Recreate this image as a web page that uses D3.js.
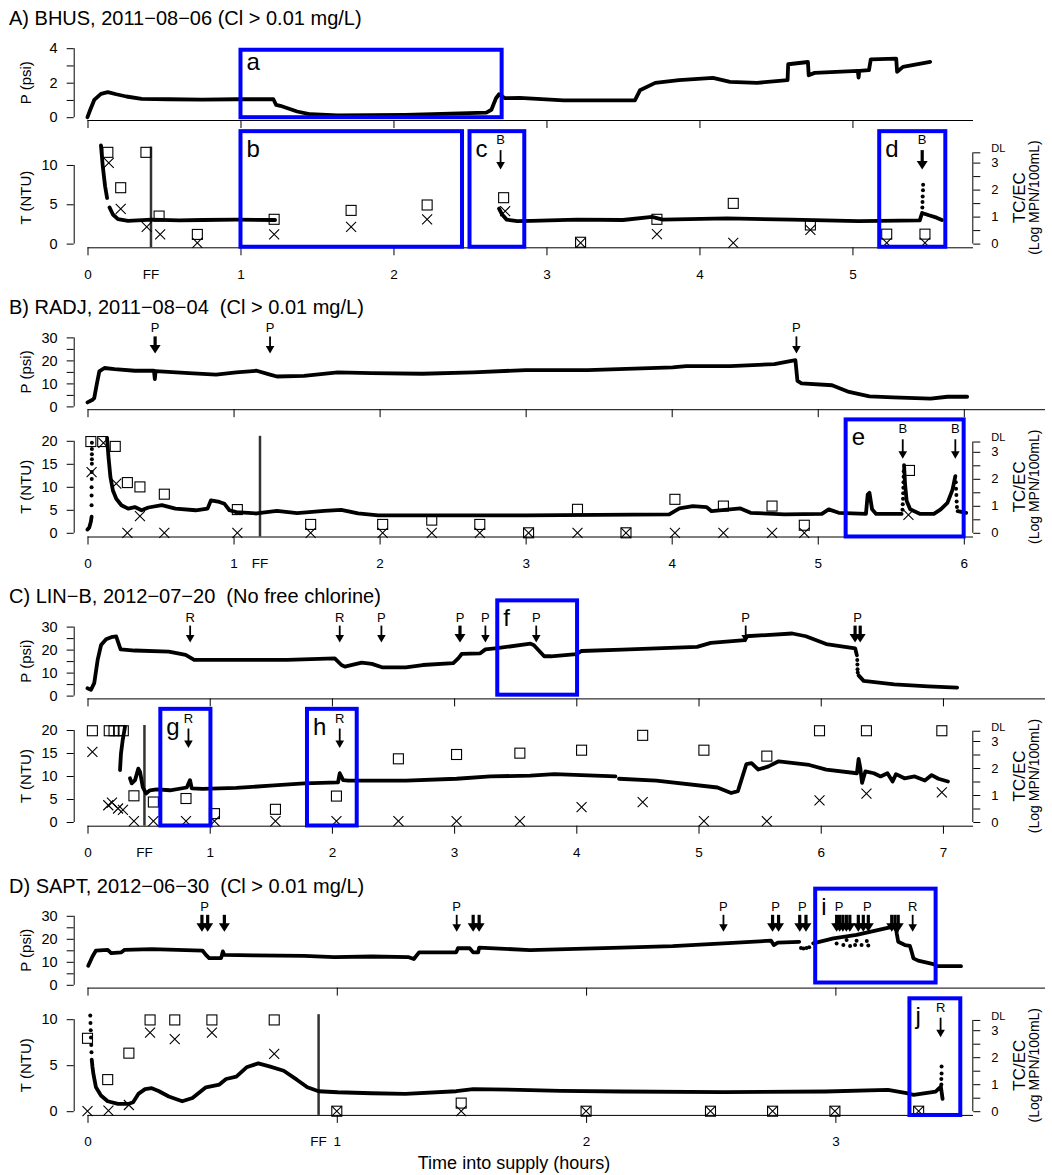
<!DOCTYPE html>
<html>
<head>
<meta charset="utf-8">
<script src="https://cdn.jsdelivr.net/npm/d3@7"></script>
<style>
  body { margin: 0; background: #fff; }
  svg { display: block; font-family: "Liberation Sans", Arial, Helvetica, sans-serif; }
</style>
</head>
<body>
<svg id="chart" width="1052" height="1175"></svg>
<script>
"use strict";

// upper detection limit of the coliform test (log MPN/100mL)
var DL = 3.38;

var titles = [
  "A) BHUS, 2011\u221208\u221206 (Cl > 0.01 mg/L)",
  "B) RADJ, 2011\u221208\u221204  (Cl > 0.01 mg/L)",
  "C) LIN\u2212B, 2012\u221207\u221220  (No free chlorine)",
  "D) SAPT, 2012\u221206\u221230  (Cl > 0.01 mg/L)"
];

// hour ticks and the first-flush time of each supply
var hourTicks = [[0, 1, 2, 3, 4, 5], [0, 1, 2, 3, 4, 5, 6], [0, 1, 2, 3, 4, 5, 6, 7], [0, 1, 2, 3]];
var ffTimes = [0.415, 1.181, 0.466, 0.927];
var pTicks = [[0, 1, 2, 3, 4], [0, 5, 10, 15, 20, 25, 30], [0, 5, 10, 15, 20, 25, 30], [0, 5, 10, 15, 20, 25, 30]];
var tTicks = [[0, 5, 10], [0, 5, 10, 15, 20], [0, 5, 10, 15, 20], [0, 5, 10]];
var logTicks = [0, 0.5, 1, 1.5, 2, 2.5, 3, DL];

// ---- A) BHUS ----
// pressure [hours, psi]
var pressA = [[0, 0], [0.018, 0.43], [0.044, 1.0], [0.088, 1.35], [0.133, 1.45], [0.188, 1.33], [0.254, 1.2], [0.354, 1.06],
  [0.53, 1.04], [0.75, 1.02], [0.97, 1.04], [1.215, 1.04], [1.233, 0.71], [1.26, 0.66], [1.37, 0.33], [1.458, 0.17],
  [1.635, 0.1], [2.077, 0.14], [2.607, 0.27], [2.64, 0.43], [2.67, 1.1], [2.69, 1.33], [2.73, 1.1], [2.824, 1.12],
  [3.112, 0.98], [3.578, 0.98], [3.611, 1.56], [3.711, 1.99], [3.866, 2.15], [4.088, 2.28], [4.2, 2.05], [4.377, 1.99],
  [4.576, 2.15], [4.58, 3.07], [4.709, 3.2], [4.714, 2.43], [4.753, 2.57], [5.035, 2.69], [5.04, 2.3], [5.045, 2.69],
  [5.108, 2.73], [5.12, 3.35], [5.286, 3.4], [5.292, 2.63], [5.33, 2.92], [5.508, 3.21]];
// turbidity [hours, NTU], null = gap in record
var turbA = [[0.088, 12.5], [0.1, 9.8], [0.115, 7.3], [0.128, 5.8], null,
  [0.144, 4.6], [0.166, 3.7], [0.199, 3.1], [0.265, 2.9], [0.42, 3.05], [0.6, 2.95], [0.75, 3.0], [0.97, 3.05], [1.226, 3.0], null,
  [2.69, 4.45], [2.71, 3.7], [2.74, 3.05], [2.81, 2.85], [2.9, 2.9], [3.2, 3.05], [3.5, 3.0], [3.69, 3.4], [3.76, 3.05],
  [4.18, 3.2], [4.6, 3.05], [5.04, 2.85], [5.44, 2.95], [5.455, 3.9], [5.47, 3.8], [5.5, 3.6], [5.55, 3.3], [5.585, 3.0]];
var turbDotsA = [[5.457, 4.6], [5.458, 5.3], [5.459, 6.0], [5.461, 6.8], [5.462, 7.5]];
// total coliform (squares) and E. coli (crosses), log MPN/100mL
var tcA = [[0.133, DL], [0.217, 2.07], [0.382, DL], [0.468, 1.02], [0.718, 0.34], [1.22, 0.9], [1.723, 1.23], [2.22, 1.43],
  [2.72, 1.7], [3.223, 0.05], [3.722, 0.9], [4.221, 1.49], [4.725, 0.69], [5.224, 0.35], [5.474, 0.35]];
var ecA = [[0.139, 2.99], [0.217, 1.29], [0.387, 0.62], [0.475, 0.34], [0.718, 0.03], [1.22, 0.34], [1.723, 0.62], [2.22, 0.9],
  [2.73, 1.2], [3.223, 0.03], [3.722, 0.35], [4.221, 0.03], [4.725, 0.51], [5.224, 0.03], [5.474, 0.03]];
var arrowsBotA = [[2.70, 0], [5.456, 1]];
var labelsBotA = [[2.70, "B"], [5.456, "B"]];
var boxesA = [["a", "top", 1.0, 2.707, 0, 3.91], ["b", "bot", 1.0, 2.448, -0.4, 14.3],
  ["c", "bot", 2.497, 2.855, -0.4, 14.3], ["d", "bot", 5.175, 5.607, -0.4, 14.3]];

// ---- B) RADJ ----
var pressB = [[0, 1.74], [0.035, 2.9], [0.046, 3.6], [0.065, 10.1], [0.081, 15.2], [0.116, 16.7], [0.185, 16.2], [0.324, 15.5],
  [0.455, 15.5], [0.461, 11.9], [0.466, 15.3], [0.695, 14.5], [0.88, 13.8], [1.019, 14.8], [1.158, 15.5], [1.25, 13.8],
  [1.297, 13.0], [1.482, 13.3], [1.713, 14.8], [1.945, 14.5], [2.292, 14.2], [2.64, 14.8], [3.0, 15.8], [3.425, 15.8],
  [4.006, 17.0], [4.099, 17.5], [4.401, 17.5], [4.703, 18.4], [4.847, 20.1], [4.861, 11.1], [4.889, 10.0], [5.098, 9.2],
  [5.214, 6.3], [5.354, 4.4], [5.516, 3.9], [5.772, 3.4], [5.888, 4.2], [6.023, 4.2]];
var turbB = [[0, 0.7], [0.012, 1.15], [0.023, 2.4], [0.028, 3.5], null,
  [0.134, 20.6], [0.144, 16.4], [0.157, 12.1], [0.174, 9.2], [0.197, 7.4], [0.232, 6.0], [0.278, 5.25], [0.324, 5.6],
  [0.37, 4.9], [0.417, 5.5], [0.509, 6.0], [0.602, 5.25], [0.741, 4.9], [0.822, 5.25], [0.845, 7.05], [0.903, 6.7],
  [0.938, 6.3], [0.972, 4.9], [1.019, 4.5], [1.158, 4.2], [1.297, 4.75], [1.435, 4.3], [1.621, 4.75], [1.737, 5.0],
  [1.852, 4.2], [1.991, 3.8], [2.408, 3.8], [3.0, 3.8], [3.983, 4.0], [4.053, 5.3], [4.145, 5.8], [4.238, 5.6],
  [4.273, 4.7], [4.471, 5.3], [4.54, 4.35], [4.773, 4.0], [5.028, 4.1], [5.075, 5.1], [5.144, 4.35], [5.33, 4.1],
  [5.342, 8.3], [5.354, 8.7], [5.372, 5.1], [5.4, 4.1], [5.574, 4.1], null,
  [5.591, 14.7], [5.598, 10.5], [5.609, 6.9], [5.633, 5.1], [5.702, 4.1], [5.795, 4.1], [5.842, 5.1], [5.888, 6.5],
  [5.923, 9.4], [5.942, 12.3], null,
  [5.958, 4.7], [6.016, 4.35]];
var turbDotsB = [[0.028, 6.0], [0.028, 8.1], [0.028, 9.9], [0.029, 11.7], [0.029, 13.2], [0.03, 15.0], [0.03, 16.0],
  [0.03, 17.1], [0.03, 18.2], [0.03, 19.6],
  [5.58, 5.0], [5.582, 6.2], [5.584, 7.4], [5.585, 8.6], [5.586, 9.8], [5.587, 11.0], [5.588, 12.2], [5.589, 13.4],
  [5.945, 11.0], [5.947, 9.6], [5.949, 8.2], [5.951, 6.8], [5.953, 5.6]];
var tcB = [[0.023, DL], [0.104, DL], [0.19, 3.2], [0.273, 1.86], [0.359, 1.7], [0.526, 1.43], [1.026, 0.86], [1.528, 0.31],
  [2.021, 0.31], [2.357, 0.47], [2.686, 0.31], [3.02, 0], [3.355, 0.87], [3.687, 0], [4.022, 1.24], [4.354, 0.99],
  [4.687, 0.99], [4.908, 0.28], [5.628, 2.31]];
var ecB = [[0.028, 2.25], [0.109, 3.33], [0.197, 1.82], [0.273, 0], [0.359, 0.62], [0.526, 0], [1.026, 0], [1.528, 0],
  [2.021, 0], [2.357, 0], [2.686, 0], [3.02, 0], [3.355, 0], [3.687, 0], [4.022, 0], [4.354, 0], [4.687, 0],
  [4.908, 0], [5.621, 0.66]];
var arrowsTopB = [[0.463, 1], [1.25, 0], [4.854, 0]];
var labelsTopB = [[0.463, "P"], [1.25, "P"], [4.854, "P"]];
var arrowsBotB = [[5.582, 0], [5.942, 0]];
var labelsBotB = [[5.582, "B"], [5.942, "B"]];
var boxesB = [["e", "bot", 5.191, 5.999, -0.8, 24.65]];

// ---- C) LIN-B ----
var pressC = [[0, 3.2], [0.028, 2.5], [0.055, 5.4], [0.083, 15.5], [0.111, 22], [0.152, 24.5], [0.194, 25.4], [0.235, 25.7],
  [0.249, 23.5], [0.271, 20.1], [0.388, 19.6], [0.665, 19.1], [0.803, 17.7], [0.873, 15.5], [1.219, 15.5], [1.635, 15.5],
  [2.023, 16.2], [2.078, 13.3], [2.106, 12.6], [2.244, 14.3], [2.327, 13.8], [2.41, 12.3], [2.605, 12.3], [2.743, 13.3],
  [2.993, 14.1], [3.034, 16.2], [3.062, 18.1], [3.214, 18.4], [3.256, 20.1], [3.353, 20.6], [3.625, 22.6], [3.653, 21.9],
  [3.737, 17.1], [3.792, 17.1], [4.001, 18.0], [4.043, 19.4], [4.376, 20.0], [4.988, 21.2], [5.1, 22.9], [5.378, 24.1],
  [5.392, 25.8], [5.767, 27.0], [5.878, 25.8], [6.045, 22.4], [6.282, 20.5], [6.296, 17.5], null,
  [6.31, 8.8], [6.351, 6.4], [6.602, 4.9], [6.88, 4.0], [7.116, 3.5]];
var pressDotsC = [[6.299, 15.5], [6.3, 13.5], [6.301, 11.5], [6.303, 10.0]];
var turbC = [[0.307, 20.7], [0.288, 17.8], [0.274, 14.9], [0.266, 11.3], null,
  [0.348, 9.5], [0.362, 8.4], [0.389, 9.1], [0.416, 11.6], [0.43, 10.9], [0.452, 7.6], [0.479, 6.2], [0.511, 6.9],
  [0.566, 7.1], [0.675, 6.9], [0.812, 7.5], [0.839, 9.1], [0.853, 7.3], [0.942, 7.2], [1.219, 7.4], [1.496, 7.9],
  [1.773, 8.4], [2.05, 8.6], [2.064, 10.6], [2.092, 9.1], [2.134, 9.0], [2.605, 9.0], [3.02, 9.4], [3.297, 9.9],
  [3.624, 10.1], [3.82, 10.4], [4.32, 9.9], null,
  [4.349, 9.4], [4.655, 9.0], [5.155, 7.5], [5.267, 6.3], [5.322, 6.7], [5.392, 12.6], [5.434, 12.8], [5.489, 11.4],
  [5.573, 12.1], [5.656, 13.2], [5.906, 12.4], [6.045, 11.4], [6.296, 10.6], [6.31, 13.7], [6.324, 11.7], [6.338, 8.5],
  [6.365, 11.0], [6.435, 10.6], [6.49, 9.9], [6.546, 10.6], [6.588, 8.8], [6.616, 10.4], [6.685, 9.5], [6.769, 9.9],
  [6.852, 9.0], [6.908, 10.2], [6.963, 9.4], [7.041, 8.8]];
var tcC = [[0.04, DL], [0.178, DL], [0.217, DL], [0.255, DL], [0.293, DL], [0.38, 0.97], [0.539, 0.74], [0.806, 0.87],
  [1.039, 0.31], [1.538, 0.47], [2.037, 0.96], [2.544, 2.34], [3.02, 2.5], [3.538, 2.55], [4.043, 2.66], [4.543, 3.21],
  [5.044, 2.66], [5.559, 2.44], [5.99, DL], [6.374, DL], [6.991, DL]];
var ecC = [[0.04, 2.6], [0.17, 0.62], [0.2, 0.72], [0.25, 0.5], [0.29, 0.45], [0.38, 0.03], [0.539, 0.03], [0.806, 0.03],
  [1.039, 0.03], [1.538, 0.03], [2.037, 0.03], [2.544, 0.03], [3.02, 0.03], [3.538, 0.03], [4.043, 0.55], [4.543, 0.74],
  [5.044, 0.03], [5.559, 0.03], [5.99, 0.8], [6.374, 1.05], [6.991, 1.1]];
var arrowsTopC = [[0.84, 0], [2.064, 0], [2.405, 0], [3.048, 1], [3.256, 0], [3.672, 0], [5.386, 0], [6.281, 1], [6.323, 1]];
var labelsTopC = [[0.84, "R"], [2.064, "R"], [2.405, "P"], [3.048, "P"], [3.256, "P"], [3.672, "P"], [5.386, "P"], [6.302, "P"]];
var arrowsBotC = [[0.826, 0], [2.064, 0]];
var labelsBotC = [[0.826, "R"], [2.064, "R"]];
var boxesC = [["f", "top", 3.353, 4.006, 0.4, 41.4], ["g", "bot", 0.596, 1.006, -0.76, 24.6],
  ["h", "bot", 1.796, 2.203, -0.76, 24.6]];

// ---- D) SAPT ----
var pressD = [[0.003, 8.3], [0.02, 12.3], [0.034, 14.9], [0.081, 15.2], [0.095, 13.8], [0.136, 14.1], [0.149, 15.2],
  [0.258, 15.5], [0.461, 14.9], [0.475, 13.0], [0.488, 11.6], [0.536, 11.6], [0.543, 14.5], [0.549, 13.0], [0.665, 12.8],
  [0.868, 12.6], [0.99, 12.0], [1.14, 12.3], [1.289, 12.0], [1.309, 11.2], [1.33, 14.1], [1.479, 14.1], [1.486, 15.9],
  [1.533, 15.9], [1.547, 14.1], [1.567, 14.1], [1.571, 16.2], [1.775, 15.1], [2.142, 16.2], [2.347, 16.8], [2.551, 18.0],
  [2.742, 19.2], [2.753, 17.3], [2.769, 18.3], [2.855, 18.7], null,
  [2.911, 18.0], [2.992, 20.2], [3.085, 21.7], [3.232, 25.3], [3.243, 26.0], [3.246, 22.4], [3.252, 18.7], [3.279, 17.3],
  [3.299, 16.9], [3.306, 14.4], [3.313, 11.5], [3.332, 10.5], [3.393, 9.0], [3.409, 8.1], [3.504, 8.1]];
var pressDotsD = [[2.862, 16.0], [2.872, 15.8], [2.884, 16.0], [2.895, 16.3], [3.005, 18.0], [3.032, 17.3], [3.045, 19.5],
  [3.059, 16.9], [3.079, 17.3], [3.085, 19.2], [3.105, 17.3], [3.126, 19.0], [3.132, 17.1]];
var turbD = [[0.017, 5.6], [0.02, 4.8], [0.024, 4.0], [0.034, 2.6], [0.054, 1.7], [0.081, 1.08], [0.122, 0.79], [0.163, 0.79],
  [0.183, 0.97], [0.204, 1.88], [0.231, 2.4], [0.258, 2.5], [0.285, 2.2], [0.326, 1.6], [0.38, 1.08], [0.421, 1.44],
  [0.475, 2.6], [0.529, 2.9], [0.556, 3.5], [0.597, 3.75], [0.638, 4.77], [0.685, 5.2], [0.733, 4.84], [0.787, 4.4],
  [0.841, 3.4], [0.882, 2.6], [0.927, 2.17], [1.004, 2.06], [1.14, 1.95], [1.275, 1.88], [1.479, 2.17], [1.547, 2.4],
  [1.775, 2.3], [1.897, 2.2], [2.142, 2.14], [2.551, 2.07], [2.96, 2.14], [3.211, 2.32], [3.286, 1.96], [3.314, 1.78],
  [3.402, 2.14], [3.423, 2.68], [3.43, 1.34]];
var turbDotsD = [[0.011, 10.4], [0.012, 9.6], [0.013, 8.8], [0.014, 8.0], [0.015, 7.2], [0.016, 6.4],
  [3.425, 2.9], [3.425, 3.5], [3.426, 4.1], [3.426, 4.86]];
var tcD = [[0, 2.7], [0.081, 1.17], [0.166, 2.15], [0.251, DL], [0.35, DL], [0.499, DL], [0.749, DL], [1.0, 0], [1.499, 0.3],
  [2.0, 0], [2.499, 0], [2.748, 0], [2.998, 0], [3.334, 0]];
var ecD = [[0, 0], [0.084, 0.02], [0.166, 0.23], [0.251, 2.91], [0.35, 2.67], [0.499, 2.91], [0.749, 2.12], [1.0, 0],
  [1.499, 0], [2.0, 0], [2.499, 0], [2.748, 0], [2.998, 0], [3.334, 0]];
var arrowsTopD = [[0.459, 1], [0.482, 1], [0.549, 1], [1.481, 0], [1.547, 1], [1.571, 1], [2.551, 0], [2.748, 1], [2.772, 1],
  [2.857, 1], [2.882, 1], [3.005, 1], [3.017, 1], [3.03, 1], [3.044, 1], [3.058, 1], [3.092, 1], [3.112, 1], [3.132, 1],
  [3.226, 1], [3.239, 1], [3.252, 1], [3.31, 0]];
var labelsTopD = [[0.47, "P"], [1.481, "P"], [2.551, "P"], [2.76, "P"], [2.867, "P"], [3.015, "P"], [3.128, "P"], [3.31, "R"]];
var arrowsBotD = [[3.422, 0]];
var labelsBotD = [[3.422, "R"]];
var boxesD = [["i", "top", 2.919, 3.402, 1.0, 41.8], ["j", "bot", 3.297, 3.501, -0.41, 12.27]];

// panel table built from the arrays above
var panels = [
  { press: pressA, pdots: [], turb: turbA, tdots: turbDotsA, tc: tcA, ec: ecA, aTop: [], lTop: [], aBot: arrowsBotA, lBot: labelsBotA, boxes: boxesA,
    pMax: 4, pEvery: 2, tMax: 11.7, hEnd: 5.788, topEnd: 973 },
  { press: pressB, pdots: [], turb: turbB, tdots: turbDotsB, tc: tcB, ec: ecB, aTop: arrowsTopB, lTop: labelsTopB, aBot: arrowsBotB, lBot: labelsBotB, boxes: boxesB,
    pMax: 30, pEvery: 10, tMax: 20, hEnd: 6.063, topEnd: 1045 },
  { press: pressC, pdots: pressDotsC, turb: turbC, tdots: [], tc: tcC, ec: ecC, aTop: arrowsTopC, lTop: labelsTopC, aBot: arrowsBotC, lBot: labelsBotC, boxes: boxesC,
    pMax: 30, pEvery: 10, tMax: 20, hEnd: 7.246, topEnd: 1045 },
  { press: pressD, pdots: pressDotsD, turb: turbD, tdots: turbDotsD, tc: tcD, ec: ecD, aTop: arrowsTopD, lTop: labelsTopD, aBot: arrowsBotD, lBot: labelsBotD, boxes: boxesD,
    pMax: 30, pEvery: 10, tMax: 10, hEnd: 3.552, topEnd: 1045 }
];

var svg = d3.select("#chart");
var X0 = 87.5, X1 = 973, LEFTX = 73.7, RIGHTX = 973.3;
var STEP = 289.2, TOPH = 69, BOTH = 92;

function styleAxis(g, size) {
  g.attr("font-family", null).attr("font-size", size);
  g.selectAll(".tick line").attr("stroke", "#000");
  g.selectAll(".tick text").attr("fill", "#000");
}

function vline(g, x, y1, y2) {
  g.append("line").attr("x1", x).attr("x2", x).attr("y1", y1).attr("y2", y2)
    .attr("stroke", "#000").attr("stroke-width", 1);
}

function hline(g, x1, x2, y) {
  g.append("line").attr("x1", x1).attr("x2", x2).attr("y1", y).attr("y2", y)
    .attr("stroke", "#000").attr("stroke-width", 1);
}

// downward pointing event arrow
function arrow(g, x, yTop, yBot, bold) {
  var sw = bold ? 3.2 : 1.8, hw = bold ? 5.5 : 4.3, hl = bold ? 8.5 : 7.5;
  g.append("line").attr("x1", x).attr("x2", x).attr("y1", yTop).attr("y2", yBot - hl + 1)
    .attr("stroke", "#000").attr("stroke-width", sw);
  g.append("path").attr("d", "M" + (x - hw) + "," + (yBot - hl) + "L" + (x + hw) + "," + (yBot - hl) + "L" + x + "," + yBot + "Z")
    .attr("fill", "#000");
}

panels.forEach(function (p, i) {
  var dy = STEP * i;
  var topY0 = 117.2 + dy, botY0 = 243.6 + dy;
  var g = svg.append("g");

  var x = d3.scaleLinear().domain([0, p.hEnd]).range([X0, X1]);
  var yP = d3.scaleLinear().domain([0, p.pMax]).range([topY0, topY0 - TOPH]);
  var yT = d3.scaleLinear().domain([0, p.tMax]).range([botY0, botY0 - BOTH]);
  var yL = d3.scaleLinear().domain([0, BOTH / 27]).range([botY0, botY0 - BOTH]);

  // title
  g.append("text").attr("x", 9).attr("y", 25 + dy).attr("font-size", 20)
    .style("white-space", "pre").text(titles[i]);

  // ---- pressure plot ----
  var topAxisY = topY0 + 2.8;
  var xt = g.append("g").attr("transform", "translate(0," + topAxisY + ")")
    .call(d3.axisBottom(x).tickValues(hourTicks[i]).tickSize(8).tickFormat(""));
  xt.select(".domain").remove();
  styleAxis(xt, 13);
  hline(g, X0, p.topEnd, topAxisY + 0.5);

  var ya = g.append("g").attr("transform", "translate(" + LEFTX + ",0)")
    .call(d3.axisLeft(yP).tickValues(pTicks[i]).tickSize(7).tickPadding(9)
      .tickFormat(function (d) { return d % p.pEvery === 0 ? d : ""; }));
  ya.select(".domain").remove();
  styleAxis(ya, 14.5);
  vline(g, LEFTX + 0.5, yP(0), yP(p.pMax));

  g.append("text").attr("transform", "translate(30.5," + (topY0 - TOPH / 2) + ") rotate(-90)")
    .attr("text-anchor", "middle").attr("font-size", 15).text("P (psi)");

  var line = function (sx, sy) {
    return d3.line().defined(function (d) { return d !== null; })
      .x(function (d) { return sx(d[0]); }).y(function (d) { return sy(d[1]); });
  };

  g.append("path").attr("d", line(x, yP)(p.press)).attr("fill", "none").attr("stroke", "#000")
    .attr("stroke-width", 3.8).attr("stroke-linejoin", "round").attr("stroke-linecap", "round");
  g.selectAll(null).data(p.pdots).enter().append("circle")
    .attr("cx", function (d) { return x(d[0]); }).attr("cy", function (d) { return yP(d[1]); }).attr("r", 2);

  // ---- turbidity + coliform plot ----
  var botAxisY = botY0 + 3.7;
  var xb = g.append("g").attr("transform", "translate(0," + botAxisY + ")")
    .call(d3.axisBottom(x).tickValues(hourTicks[i]).tickSize(8).tickPadding(14)
      .tickFormat(function (d) { return d; }));
  xb.select(".domain").remove();
  styleAxis(xb, 13.5);
  hline(g, X0, X1, botAxisY + 0.5);
  xb.append("text").attr("x", x(ffTimes[i])).attr("y", 22).attr("dy", "0.71em")
    .attr("text-anchor", "middle").attr("fill", "#000").text("FF");

  var ta = g.append("g").attr("transform", "translate(" + LEFTX + ",0)")
    .call(d3.axisLeft(yT).tickValues(tTicks[i]).tickSize(7).tickPadding(9));
  ta.select(".domain").remove();
  styleAxis(ta, 14.5);
  var tt = tTicks[i];
  vline(g, LEFTX + 0.5, yT(0), yT(tt[tt.length - 1]));

  g.append("text").attr("transform", "translate(30.5," + (botY0 - BOTH / 2) + ") rotate(-90)")
    .attr("text-anchor", "middle").attr("font-size", 15).text("T (NTU)");

  var ra = g.append("g").attr("transform", "translate(" + RIGHTX + ",0)")
    .call(d3.axisRight(yL).tickValues(logTicks).tickSize(7).tickPadding(11)
      .tickFormat(function (d) { return d === DL ? "DL" : (d % 1 === 0 ? d : ""); }));
  ra.select(".domain").remove();
  styleAxis(ra, 13);
  ra.selectAll(".tick text").filter(function (d) { return d === DL; })
    .attr("font-size", 11).attr("dy", "-0.05em");
  vline(g, RIGHTX - 0.5, yL(0), yL(DL));

  g.append("text").attr("transform", "translate(1025," + (botY0 - BOTH / 2) + ") rotate(-90)")
    .attr("text-anchor", "middle").attr("font-size", 17).text("TC/EC");
  g.append("text").attr("transform", "translate(1039," + (botY0 - BOTH / 2) + ") rotate(-90)")
    .attr("text-anchor", "middle").attr("font-size", 14).text("(Log MPN/100mL)");

  // first flush marker
  g.append("line").attr("x1", x(ffTimes[i])).attr("x2", x(ffTimes[i]))
    .attr("y1", botY0 - BOTH - 5).attr("y2", botAxisY)
    .attr("stroke", "#333").attr("stroke-width", 2.5);

  g.append("path").attr("d", line(x, yT)(p.turb)).attr("fill", "none").attr("stroke", "#000")
    .attr("stroke-width", 3.8).attr("stroke-linejoin", "round").attr("stroke-linecap", "round");
  g.selectAll(null).data(p.tdots).enter().append("circle")
    .attr("cx", function (d) { return x(d[0]); }).attr("cy", function (d) { return yT(d[1]); }).attr("r", 2);

  g.selectAll(null).data(p.tc).enter().append("rect")
    .attr("x", function (d) { return x(d[0]) - 5; }).attr("y", function (d) { return yL(d[1]) - 5; })
    .attr("width", 10).attr("height", 10).attr("fill", "none").attr("stroke", "#000").attr("stroke-width", 1.1);
  g.selectAll(null).data(p.ec).enter().append("path")
    .attr("transform", function (d) { return "translate(" + x(d[0]) + "," + yL(d[1]) + ")"; })
    .attr("d", "M-5,-5L5,5M-5,5L5,-5").attr("stroke", "#000").attr("stroke-width", 1.1);

  // event arrows
  var topTop = topY0 - TOPH, botTop = botY0 - BOTH;
  p.aTop.forEach(function (a) { arrow(g, x(a[0]), topTop - 1, topTop + 16, a[1]); });
  p.lTop.forEach(function (l) {
    g.append("text").attr("x", x(l[0])).attr("y", topTop - 5).attr("text-anchor", "middle")
      .attr("font-size", 13).text(l[1]);
  });
  p.aBot.forEach(function (a) { arrow(g, x(a[0]), botTop - 1.5, botTop + 18, a[1]); });
  p.lBot.forEach(function (l) {
    g.append("text").attr("x", x(l[0])).attr("y", botTop - 7.5).attr("text-anchor", "middle")
      .attr("font-size", 13).text(l[1]);
  });

  // highlighted windows
  p.boxes.forEach(function (b) {
    var sy = b[1] === "top" ? yP : yT;
    var bx = x(b[2]), by = sy(b[5]);
    g.append("rect").attr("x", bx).attr("y", by).attr("width", x(b[3]) - bx).attr("height", sy(b[4]) - by)
      .attr("fill", "none").attr("stroke", "#0000ff").attr("stroke-width", 4);
    g.append("text").attr("x", bx + 6).attr("y", by + (b[0] === "a" ? 20 : 26))
      .attr("font-size", 24).text(b[0]);
  });
});

svg.append("text").attr("x", 514).attr("y", 1169).attr("text-anchor", "middle")
  .attr("font-size", 18).text("Time into supply (hours)");
</script>
</body>
</html>
